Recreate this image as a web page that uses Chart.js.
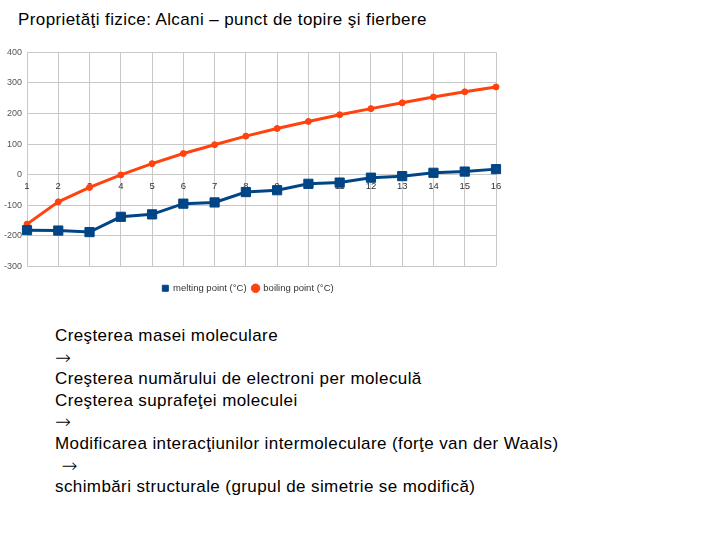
<!DOCTYPE html>
<html>
<head>
<meta charset="utf-8">
<script src="https://cdn.jsdelivr.net/npm/chart.js@4.4.1/dist/chart.umd.min.js"></script>
<style>
  body { margin: 0; background: #fff; width: 720px; height: 540px; overflow: hidden; position: relative; font-family: "Liberation Sans", Arial, sans-serif; }
  #title { position: absolute; left: 18px; top: 10px; font-size: 17px; letter-spacing: 0.4px; color: #000; white-space: pre; }
  #chartBox { position: absolute; left: 0; top: 42px; width: 510px; height: 261px; }
  #notes { position: absolute; left: 55px; top: 325px; font-size: 17px; letter-spacing: 0.4px; line-height: 21.6px; color: #000; white-space: pre; }
  .arr { font-family: "DejaVu Sans ExtraLight", "DejaVu Sans", sans-serif; font-weight: 200; font-size: 19px; line-height: 0; position: relative; top: 1px; }
</style>
</head>
<body>
<div id="title">Proprietăţi fizice: Alcani – punct de topire şi fierbere</div>
<div id="chartBox"><canvas id="alkChart"></canvas></div>
<div id="notes">Creşterea masei moleculare
<span class="arr">→</span>
Creşterea numărului de electroni per moleculă
Creşterea suprafeţei moleculei
<span class="arr">→</span>
Modificarea interacţiunilor intermoleculare (forţe van der Waals)
<span class="arr"> →</span>
schimbări structurale (grupul de simetrie se modifică)</div>
<script>
const carbonAtoms = ["1", "2", "3", "4", "5", "6", "7", "8", "9", "10", "11", "12", "13", "14", "15", "16"];
const meltingPoints = [-182, -183, -188, -138, -130, -95, -91, -57, -51, -30, -26, -10, -5, 6, 10, 18];
const boilingPoints = [-162, -89, -42, -1, 36, 69, 98, 126, 151, 174, 196, 216, 235, 254, 271, 287];

const ctx = document.getElementById("alkChart").getContext("2d");

const alkChart = new Chart(ctx, {
  type: "line",
  data: {
    labels: carbonAtoms,
    datasets: [
      {
        label: "melting point (°C)",
        data: meltingPoints,
        borderColor: "#004586",
        backgroundColor: "#004586",
        borderWidth: 3,
        pointStyle: "rect",
        pointRadius: 6.5,
        pointHoverRadius: 6.5,
        pointBorderWidth: 1,
        tension: 0,
      },
      {
        label: "boiling point (°C)",
        data: boilingPoints,
        borderColor: "#ff420e",
        backgroundColor: "#ff420e",
        borderWidth: 3,
        pointStyle: "circle",
        pointRadius: 3,
        pointHoverRadius: 3,
        pointBorderWidth: 1,
        tension: 0,
      },
    ],
  },
  options: {
    responsive: true,
    maintainAspectRatio: false,
    animation: false,
    layout: { padding: { top: 1, right: 14, left: 0, bottom: 0 } },
    scales: {
      x: {
        position: { y: 0 },
        offset: false,
        border: { display: false },
        grid: { color: "#c8c8c8", lineWidth: 1, drawTicks: false },
        ticks: {
          color: "#333",
          font: { family: "Liberation Sans", size: 9.5 },
          padding: 6,
          maxRotation: 0,
          autoSkip: false,
        },
      },
      y: {
        min: -300,
        max: 400,
        border: { display: false },
        grid: { color: "#c8c8c8", lineWidth: 1, drawTicks: false },
        ticks: {
          stepSize: 100,
          color: "#555",
          font: { family: "Liberation Sans", size: 9 },
          padding: 5,
        },
        afterFit: (scale) => {
          scale.width = 27;
        },
      },
    },
    plugins: {
      legend: {
        position: "bottom",
        title: { display: true, text: "", font: { size: 1 }, padding: { top: 0, bottom: 10 } },
        labels: {
          usePointStyle: true,
          boxWidth: 6,
          boxHeight: 6,
          padding: 6,
          color: "#333",
          font: { family: "Liberation Sans", size: 9.5 },
        },
      },
      tooltip: { enabled: false },
    },
  },
});
</script>
</body>
</html>
